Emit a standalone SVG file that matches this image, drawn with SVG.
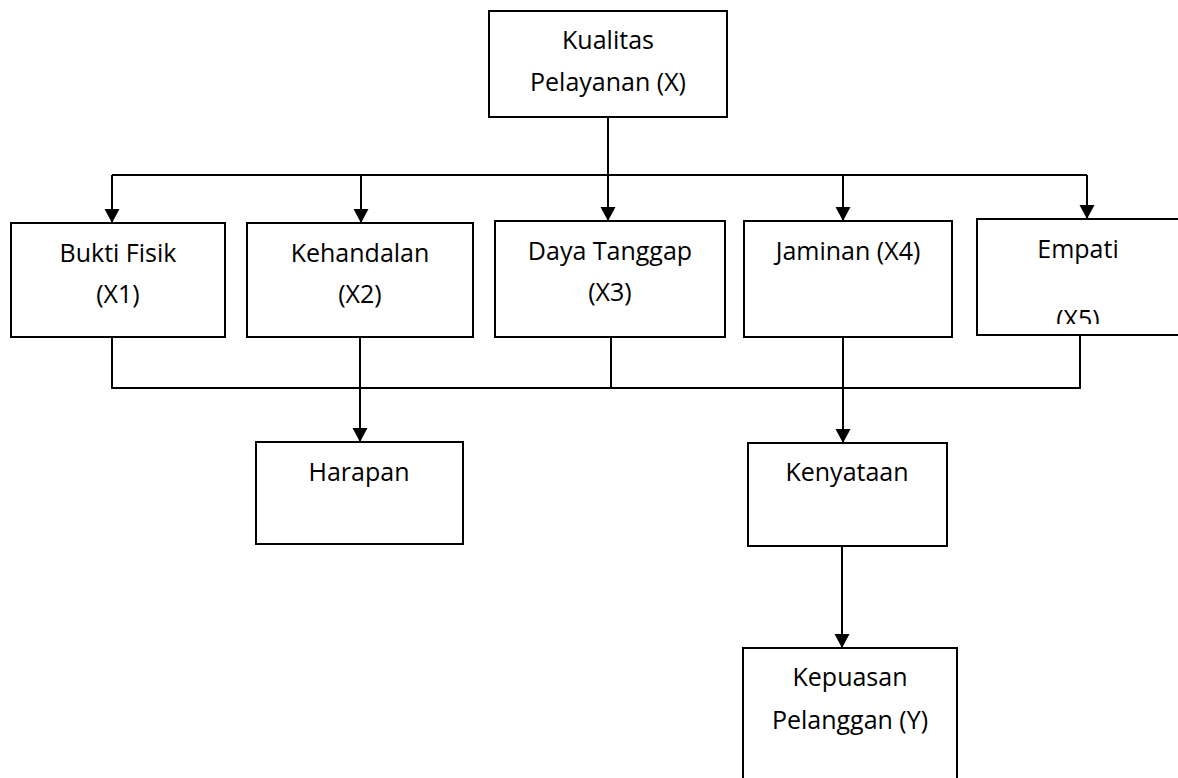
<svg xmlns="http://www.w3.org/2000/svg" width="1178" height="778" viewBox="0 0 1178 778">
<style>
.box{fill:#fff;stroke:#000;stroke-width:2}
.ln{fill:none;stroke:#000;stroke-width:2}
.ar{fill:none;stroke:#000;stroke-width:2;marker-end:url(#ah)}
text{font-family:"Open Sans","Liberation Sans",sans-serif;font-size:25px;fill:#000;text-anchor:middle}
</style>
<defs>
<marker id="ah" markerUnits="userSpaceOnUse" markerWidth="15" markerHeight="16" refX="14" refY="8" orient="auto">
<path d="M0,0.5 L14,8 L0,15.5 z" fill="#000"/>
</marker>
<clipPath id="clip5"><rect x="977" y="219" width="203" height="105"/></clipPath>
</defs>
<rect width="1178" height="778" fill="#fff"/>
<g id="connectors">
<path class="ln" d="M112,175 H1087"/>
<path class="ar" d="M608,117 V221"/>
<path class="ar" d="M112,175 V223"/>
<path class="ar" d="M361,175 V223"/>
<path class="ar" d="M843,175 V221"/>
<path class="ar" d="M1087,175 V219"/>
<path class="ln" d="M112,337 V388 M360,337 V388 M611,337 V388 M843,337 V388 M1080,335 V388 M111,388 H1081"/>
<path class="ar" d="M360,388 V442"/>
<path class="ar" d="M843,388 V443"/>
<path class="ar" d="M842,546 V648"/>
</g>
<g id="node-x">
<rect class="box" x="489" y="11" width="238" height="106"/>
<text x="608" y="49">Kualitas</text>
<text x="608" y="91">Pelayanan (X)</text>
</g>
<g id="node-x1">
<rect class="box" x="11" y="223" width="214" height="114"/>
<text x="118" y="262">Bukti Fisik</text>
<text x="118" y="303">(X1)</text>
</g>
<g id="node-x2">
<rect class="box" x="247" y="223" width="226" height="114"/>
<text x="360" y="262">Kehandalan</text>
<text x="360" y="303">(X2)</text>
</g>
<g id="node-x3">
<rect class="box" x="495" y="221" width="230" height="116"/>
<text x="610" y="260">Daya Tanggap</text>
<text x="610" y="301">(X3)</text>
</g>
<g id="node-x4">
<rect class="box" x="744" y="221" width="208" height="116"/>
<text x="848" y="260">Jaminan (X4)</text>
</g>
<g id="node-x5">
<rect class="box" x="977" y="219" width="210" height="116"/>
<text x="1078" y="258">Empati</text>
<text x="1078" y="328" clip-path="url(#clip5)">(X5)</text>
</g>
<g id="node-harapan">
<rect class="box" x="256" y="442" width="207" height="102"/>
<text x="359" y="481">Harapan</text>
</g>
<g id="node-kenyataan">
<rect class="box" x="748" y="443" width="199" height="103"/>
<text x="847" y="481">Kenyataan</text>
</g>
<g id="node-y">
<rect class="box" x="743" y="648" width="214" height="160"/>
<text x="850" y="686">Kepuasan</text>
<text x="850" y="729">Pelanggan (Y)</text>
</g>
</svg>
